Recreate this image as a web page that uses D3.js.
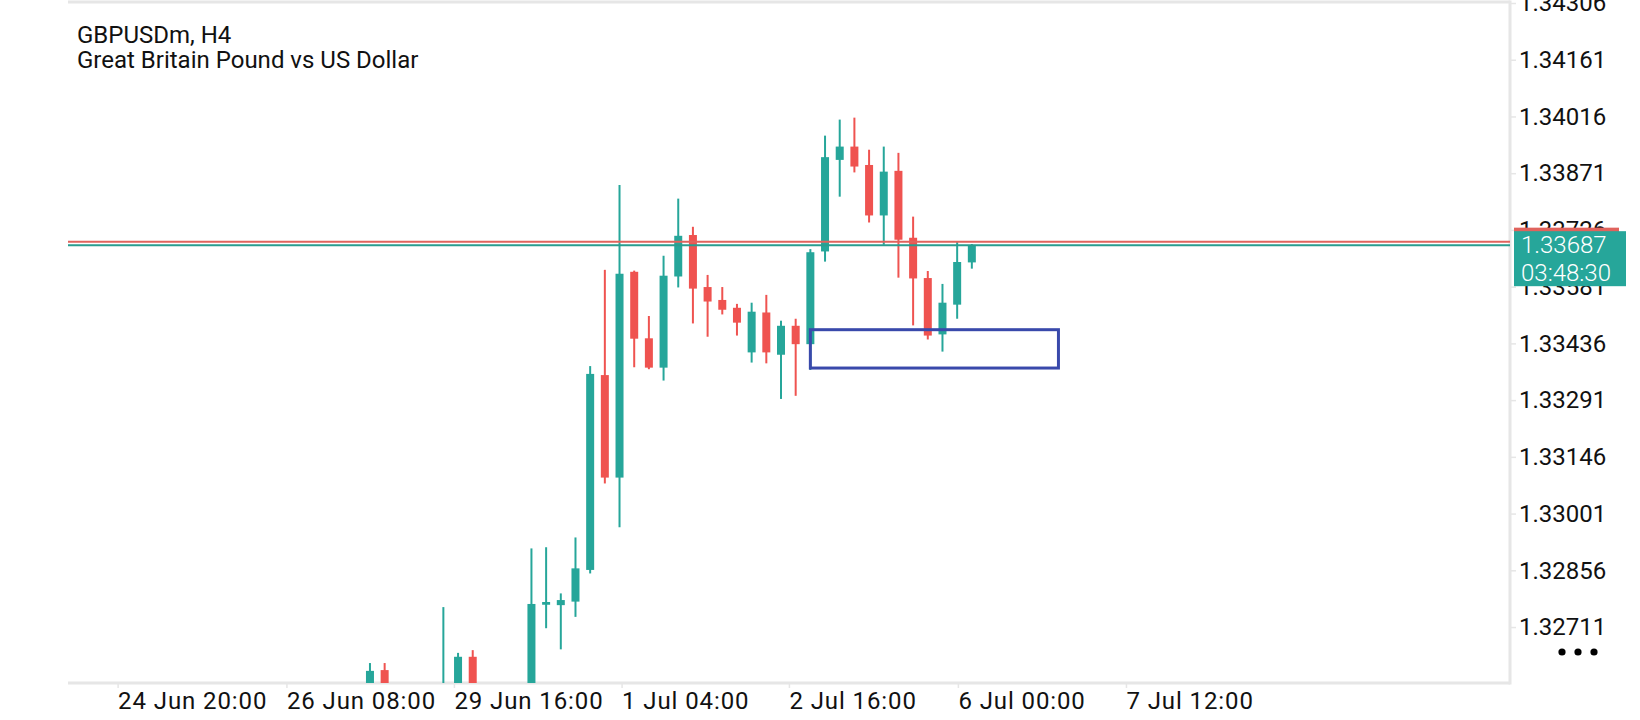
<!DOCTYPE html>
<html>
<head>
<meta charset="utf-8">
<script src="https://cdn.jsdelivr.net/npm/d3@7"></script>
<style>
  body { margin: 0; background: #fff; }
  svg { display: block; font-family: Roboto, "Noto Sans", sans-serif; }
</style>
</head>
<body>
<div id="chart"></div>
<script>
// bar number (H4 bars, 0 = first visible candle), OHLC per bar
var barNo  = [0, 1, 5, 6, 7, 11, 12, 13, 14, 15, 16, 17, 18, 19, 20, 21, 22, 23, 24, 25, 26, 27, 28, 29, 30, 31, 32, 33, 34, 35, 36, 37, 38, 39, 40, 41];
var openP  = [1.32550, 1.32601, 1.32510, 1.32550, 1.32635, 1.32550, 1.32768, 1.32767, 1.32776, 1.32857, 1.33355, 1.33093, 1.33619, 1.33449, 1.33374, 1.33607, 1.33713, 1.33580, 1.33547, 1.33527, 1.33413, 1.33515, 1.33407, 1.33481, 1.33434, 1.33671, 1.33905, 1.33939, 1.33892, 1.33763, 1.33877, 1.33706, 1.33603, 1.33459, 1.33535, 1.33643];
var highP  = [1.32619, 1.32619, 1.32762, 1.32645, 1.32652, 1.32912, 1.32915, 1.32797, 1.32940, 1.33378, 1.33624, 1.33841, 1.33622, 1.33506, 1.33660, 1.33806, 1.33734, 1.33611, 1.33580, 1.33537, 1.33540, 1.33560, 1.33494, 1.33499, 1.33677, 1.33967, 1.34008, 1.34013, 1.33931, 1.33939, 1.33923, 1.33760, 1.33621, 1.33588, 1.33696, 1.33690];
var lowP   = [1.32520, 1.32520, 1.32490, 1.32520, 1.32520, 1.32520, 1.32708, 1.32654, 1.32737, 1.32848, 1.33078, 1.32966, 1.33375, 1.33370, 1.33341, 1.33579, 1.33487, 1.33453, 1.33510, 1.33456, 1.33387, 1.33385, 1.33294, 1.33302, 1.33368, 1.33645, 1.33811, 1.33873, 1.33745, 1.33688, 1.33604, 1.33482, 1.33446, 1.33415, 1.33499, 1.33627];
var closeP = [1.32599, 1.32550, 1.32550, 1.32635, 1.32550, 1.32770, 1.32775, 1.32780, 1.32861, 1.33358, 1.33093, 1.33614, 1.33448, 1.33374, 1.33609, 1.33711, 1.33576, 1.33543, 1.33522, 1.33489, 1.33517, 1.33413, 1.33481, 1.33434, 1.33669, 1.33912, 1.33939, 1.33888, 1.33763, 1.33875, 1.33701, 1.33602, 1.33456, 1.33540, 1.33644, 1.33687];

// price axis
var priceTicks = [1.34306, 1.34161, 1.34016, 1.33871, 1.33726, 1.33581, 1.33436, 1.33291, 1.33146, 1.33001, 1.32856, 1.32711];
// time axis labels and where they sit (in bar numbers)
var timeLabels = ["24 Jun 20:00", "26 Jun 08:00", "29 Jun 16:00", "1 Jul 04:00", "2 Jul 16:00", "6 Jul 00:00", "7 Jul 12:00"];
var timeTickBar = [-17.19, -5.69, 5.72, 17.14, 28.54, 40.05, 51.5];

var bidPrice = 1.33687;
var askPrice = 1.33696;
var countdown = "03:48:30";

// rectangle drawn on chart: bar from/to, price top/bottom
var zoneBars = [30, 46.9];
var zonePrice = [1.33471, 1.33373];

var titleLines = ["GBPUSDm, H4", "Great Britain Pound vs US Dollar"];

var Width = 1640, Height = 720;
var plotL = 68, plotR = 1510, plotT = 2, plotB = 683;
var upCol = "#26a69a", downCol = "#ef5350";

var candles = barNo.map(function(b, i) {
  return { bar: b, o: openP[i], h: highP[i], l: lowP[i], c: closeP[i] };
});

var svg = d3.select("#chart").append("svg")
  .attr("width", Width).attr("height", Height);

var x = d3.scaleLinear().domain([-20.57, 77.66]).range([plotL, plotR]);
var y = d3.scaleLinear().domain([1.32568, 1.34306]).range([plotB, plotT + 1]);

svg.append("clipPath").attr("id", "plotClip")
  .append("rect").attr("x", plotL).attr("y", plotT).attr("width", plotR - plotL).attr("height", plotB - plotT);

// frame
var frameCol = "#e6e6e6";
svg.append("line").attr("x1", plotL).attr("x2", plotR).attr("y1", plotT).attr("y2", plotT)
  .attr("stroke", frameCol).attr("stroke-width", 3);
svg.append("line").attr("x1", plotR).attr("x2", plotR).attr("y1", plotT - 1.5).attr("y2", plotB + 1.5)
  .attr("stroke", frameCol).attr("stroke-width", 3);
svg.append("line").attr("x1", plotL).attr("x2", plotR).attr("y1", plotB).attr("y2", plotB)
  .attr("stroke", frameCol).attr("stroke-width", 3);

// title
svg.selectAll("text.title").data(titleLines).enter().append("text")
  .attr("class", "title")
  .attr("x", 77).attr("y", function(d, i) { return 43 + i * 25; })
  .attr("font-size", 24).attr("fill", "#111")
  .text(function(d) { return d; });

var plot = svg.append("g").attr("clip-path", "url(#plotClip)");

// candles
var cg = plot.selectAll("g.candle").data(candles).enter().append("g").attr("class", "candle");
cg.append("line")
  .attr("x1", function(d) { return x(d.bar); })
  .attr("x2", function(d) { return x(d.bar); })
  .attr("y1", function(d) { return y(d.h); })
  .attr("y2", function(d) { return y(d.l); })
  .attr("stroke", function(d) { return d.c >= d.o ? upCol : downCol; })
  .attr("stroke-width", 2);
cg.append("rect")
  .attr("x", function(d) { return x(d.bar) - 4; })
  .attr("width", 8)
  .attr("y", function(d) { return y(Math.max(d.o, d.c)); })
  .attr("height", function(d) { return Math.max(2.5, Math.abs(y(d.o) - y(d.c))); })
  .attr("fill", function(d) { return d.c >= d.o ? upCol : downCol; });

// bid / ask lines
plot.append("line").attr("x1", plotL).attr("x2", plotR)
  .attr("y1", y(askPrice)).attr("y2", y(askPrice))
  .attr("stroke", "#e0635d").attr("stroke-width", 2);
plot.append("line").attr("x1", plotL).attr("x2", plotR)
  .attr("y1", y(bidPrice)).attr("y2", y(bidPrice))
  .attr("stroke", "#2a9d8f").attr("stroke-width", 2);

// zone rectangle
plot.append("rect")
  .attr("x", x(zoneBars[0])).attr("width", x(zoneBars[1]) - x(zoneBars[0]))
  .attr("y", y(zonePrice[0])).attr("height", y(zonePrice[1]) - y(zonePrice[0]))
  .attr("fill", "none").attr("stroke", "#3949ab").attr("stroke-width", 3);

// price axis
var yAxis = d3.axisRight(y).tickValues(priceTicks).tickSize(6).tickPadding(3)
  .tickFormat(d3.format(".5f"));
var yg = svg.append("g").attr("transform", "translate(" + plotR + ",0)").call(yAxis);
yg.select(".domain").remove();
yg.selectAll(".tick line").attr("stroke", frameCol).attr("stroke-width", 1.5);
yg.selectAll(".tick text").attr("font-size", 24).attr("font-family", "Roboto").attr("fill", "#111");

// time axis
var xAxis = d3.axisBottom(x).tickValues(timeTickBar).tickSize(5)
  .tickFormat(function(d, i) { return timeLabels[i]; });
var xg = svg.append("g").attr("transform", "translate(0," + plotB + ")").call(xAxis);
xg.select(".domain").remove();
xg.selectAll(".tick line").attr("stroke", frameCol).attr("stroke-width", 1.5);
xg.selectAll(".tick text").attr("font-size", 24).attr("font-family", "Roboto").attr("fill", "#111")
  .attr("letter-spacing", "0.9px")
  .attr("text-anchor", "start").attr("x", 0).attr("y", 26).attr("dy", 0);

// ask label (mostly hidden) and bid label with countdown
svg.append("rect").attr("x", plotR + 4).attr("width", 105)
  .attr("y", y(askPrice) - 14).attr("height", 28).attr("fill", "#e0635d");
var bidY = y(bidPrice);
svg.append("rect").attr("x", plotR + 4).attr("width", 112)
  .attr("y", bidY - 14).attr("height", 55).attr("fill", "#26a69a");
svg.append("text").attr("x", plotR + 11).attr("y", bidY + 7.5)
  .attr("font-size", 24).attr("font-weight", 300).attr("fill", "#fff")
  .text(d3.format(".5f")(bidPrice));
svg.append("text").attr("x", plotR + 11).attr("y", bidY + 36)
  .attr("font-size", 24).attr("font-weight", 300).attr("fill", "#fff")
  .text(countdown);

// menu dots
svg.selectAll("circle.dot").data([0, 1, 2]).enter().append("circle")
  .attr("class", "dot")
  .attr("cx", function(d) { return 1562 + d * 16; })
  .attr("cy", 652).attr("r", 3.6).attr("fill", "#000");
</script>
</body>
</html>
